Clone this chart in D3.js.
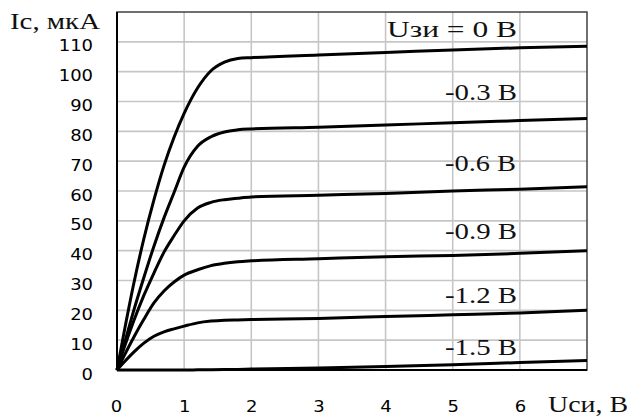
<!DOCTYPE html>
<html><head><meta charset="utf-8">
<script src="https://cdn.jsdelivr.net/npm/d3@7"></script>
<style>html,body{margin:0;padding:0;background:#fff;}svg{display:block;}</style>
</head><body>
<svg id="chart" width="630" height="418"></svg>
<script>
// ---- data ----
const uds = [0, 0.1, 0.25, 0.4, 0.55, 0.7, 0.85, 1.0, 1.2, 1.4, 1.6, 1.8, 2, 3, 4, 5, 6, 7];
const ic_0   = [0, 12, 29, 44, 57, 68.5, 78, 86, 94.5, 100.3, 103.2, 104.4, 104.7, 105.6, 106.4, 107.3, 108, 108.5];
const ic_03  = [0, 8, 20, 31, 41.5, 51, 59.5, 68, 75, 78.2, 79.8, 80.5, 80.8, 81.4, 82.1, 82.9, 83.6, 84.3];
const ic_06  = [0, 7, 16.5, 25, 32.5, 39.5, 45, 50, 54.3, 56.2, 57.1, 57.6, 58, 58.6, 59.2, 60, 60.6, 61.4];
const ic_09  = [0, 4.5, 11, 17, 22.5, 26.5, 29.5, 31.8, 33.6, 35, 35.8, 36.3, 36.6, 37.3, 38, 38.4, 39.1, 40];
const ic_12  = [0, 2.5, 6, 9, 11.3, 12.8, 13.8, 14.7, 15.8, 16.4, 16.7, 16.8, 16.9, 17.3, 17.9, 18.5, 19.1, 20];
const ic_15  = [0, 0, 0, 0, 0, 0, 0, 0, 0.05, 0.1, 0.15, 0.2, 0.3, 0.7, 1.2, 1.8, 2.5, 3.2];
const seriesValues = [ic_0, ic_03, ic_06, ic_09, ic_12, ic_15];
const seriesLabels = ["Uзи = 0 В", "-0.3 В", "-0.6 В", "-0.9 В", "-1.2 В", "-1.5 В"];
const xTicks = [0, 1, 2, 3, 4, 5, 6];
const yTicks = [0, 10, 20, 30, 40, 50, 60, 70, 80, 90, 100, 110];
const yTitle = "Ic, мкА";
const xTitle = "Uси, В";

// ---- layout ----
const L = 117, R = 587, T = 12, B = 370;
const svg = d3.select("#chart");
svg.append("rect").attr("width", 630).attr("height", 418).attr("fill", "#fff");
const x = d3.scaleLinear().domain([0, 7]).range([L, R]);
const y = d3.scaleLinear().domain([0, 120]).range([B, T]);

// grid
const grid = svg.append("g").attr("stroke", "#c6c6c6").attr("stroke-width", 1.6);
grid.selectAll(".gx").data(d3.range(1, 7)).join("line")
  .attr("x1", d => x(d)).attr("x2", d => x(d)).attr("y1", T).attr("y2", B);
grid.selectAll(".gy").data(d3.range(10, 120, 10)).join("line")
  .attr("x1", L).attr("x2", R).attr("y1", d => y(d)).attr("y2", d => y(d));

// frame
svg.append("rect").attr("x", L).attr("y", T).attr("width", R - L).attr("height", B - T)
  .attr("fill", "none").attr("stroke", "#404040").attr("stroke-width", 1.5);
svg.append("line").attr("x1", L).attr("x2", L).attr("y1", T).attr("y2", B)
  .attr("stroke", "#000").attr("stroke-width", 2);
svg.append("line").attr("x1", L).attr("x2", R).attr("y1", B).attr("y2", B)
  .attr("stroke", "#000").attr("stroke-width", 2);

// curves
const line = d3.line().x((d, i) => x(uds[i])).y(d => y(d)).curve(d3.curveMonotoneX);
svg.append("g").selectAll("path").data(seriesValues).join("path")
  .attr("d", d => line(d)).attr("fill", "none").attr("stroke", "#000")
  .attr("stroke-width", 3).attr("stroke-linejoin", "round");

// axes
const ax = svg.append("g").attr("transform", `translate(0,${B})`)
  .call(d3.axisBottom(x).tickValues(xTicks).tickSize(0).tickFormat(d3.format("d")));
ax.select(".domain").remove();
ax.selectAll("text").attr("y", 0).attr("dy", 0)
  .attr("transform", "translate(0,42) scale(1.2,1)")
  .style("font-family", "'DejaVu Sans'").style("font-size", "15px").attr("fill", "#000");
ax.selectAll("text").filter(d => d === 0).attr("transform", "translate(-1,42) scale(1.2,1)");

const ay = svg.append("g").attr("transform", `translate(${L},0)`)
  .call(d3.axisLeft(y).tickValues(yTicks).tickSize(0).tickFormat(d3.format("d")));
ay.select(".domain").remove();
ay.selectAll("text").attr("x", -20).attr("dy", "0.6em")
  .attr("transform", "scale(1.2,1)")
  .style("font-family", "'DejaVu Sans'").style("font-size", "15px").attr("fill", "#000");

// titles
const serif = "'Liberation Serif', 'Times New Roman', serif";
function stretchText(txt, x0, width, base, size) {
  svg.append("text").attr("x", x0).attr("y", base).text(txt)
    .attr("textLength", width).attr("lengthAdjust", "spacingAndGlyphs")
    .style("font-family", serif).style("font-size", size + "px").attr("fill", "#111");
}
stretchText(yTitle, 10, 90, 29, 24);
stretchText(xTitle, 548, 80, 412, 24);

const labelPos = [
  {x0: 387, w: 130, base: 37},
  {x0: 445, w: 72, base: 100},
  {x0: 445, w: 71, base: 171},
  {x0: 445, w: 72, base: 239},
  {x0: 445, w: 72, base: 303},
  {x0: 445, w: 72, base: 355}
];
seriesLabels.forEach((s, i) => stretchText(s, labelPos[i].x0, labelPos[i].w, labelPos[i].base, 24));
</script>
</body></html>
